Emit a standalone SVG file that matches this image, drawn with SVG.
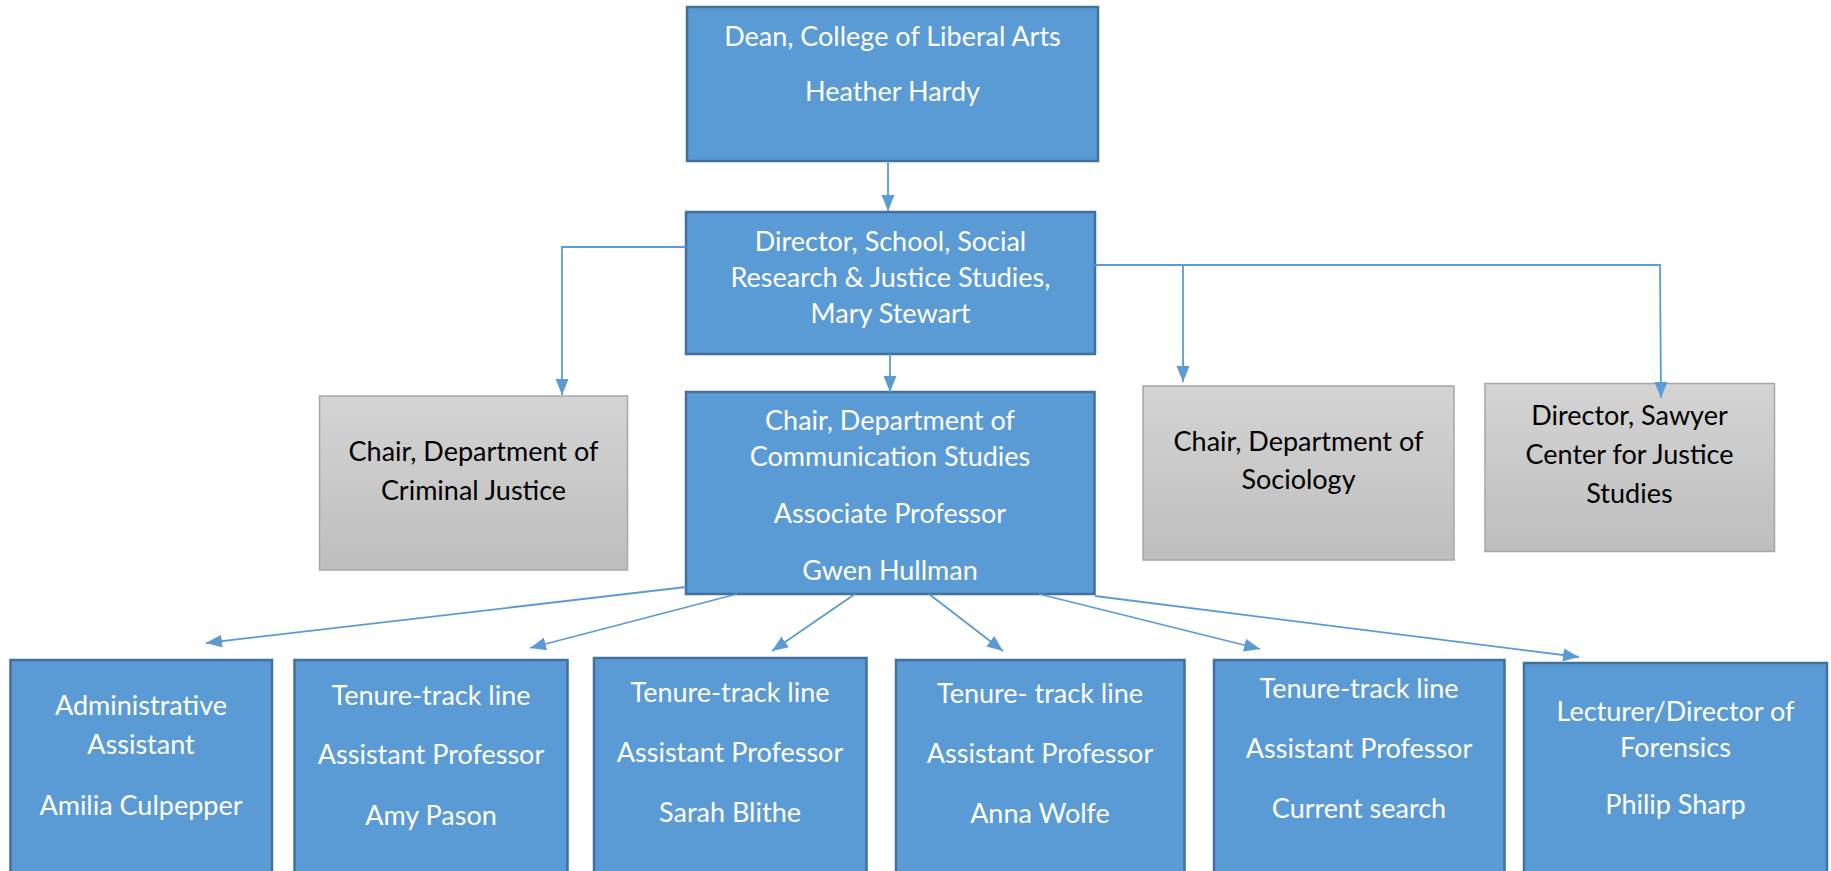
<svg xmlns="http://www.w3.org/2000/svg" width="1831" height="871" viewBox="0 0 1831 871">
<defs>
<linearGradient id="gray" x1="0" y1="0" x2="0" y2="1">
<stop offset="0" stop-color="#D4D4D4"/>
<stop offset="1" stop-color="#BEBEBE"/>
</linearGradient>
<marker id="arr" markerUnits="userSpaceOnUse" markerWidth="17" markerHeight="14" refX="16" refY="7" orient="auto">
<path d="M0,0.5 L16,7 L0,13.5 z" fill="#5B9BD5"/>
</marker>
<style>
.blue{fill:#5B9BD5;stroke:#41719C;stroke-width:2.5}
.grey{fill:url(#gray);stroke:#A6A6A6;stroke-width:1.5}
text{font-family:Lato,"Liberation Sans",sans-serif;font-size:27px;text-anchor:middle}
.w{fill:#FFFFFF}
.k{fill:#000000}
.c{fill:none;stroke:#5B9BD5;stroke-width:1.8;marker-end:url(#arr)}
</style>
</defs>
<rect width="1831" height="871" fill="#FFFFFF"/>
<g id="dean">
<rect class="blue" x="687" y="7" width="411" height="154"/>
<text class="w" x="892.5" y="46">Dean, College of Liberal Arts</text>
<text class="w" x="892.5" y="101">Heather Hardy</text>
</g>
<g id="director">
<rect class="blue" x="686" y="212" width="409" height="142"/>
<text class="w" x="890.5" y="251">Director, School, Social</text>
<text class="w" x="890.5" y="287">Research &amp; Justice Studies,</text>
<text class="w" x="890.5" y="323">Mary Stewart</text>
</g>
<g id="criminal-justice">
<rect class="grey" x="319.5" y="396" width="308" height="174"/>
<text class="k" x="473.5" y="461">Chair, Department of</text>
<text class="k" x="473.5" y="500">Criminal Justice</text>
</g>
<g id="communication">
<rect class="blue" x="686" y="392" width="408.5" height="202"/>
<text class="w" x="890" y="430">Chair, Department of</text>
<text class="w" x="890" y="466">Communication Studies</text>
<text class="w" x="890" y="523">Associate Professor</text>
<text class="w" x="890" y="580">Gwen Hullman</text>
</g>
<g id="sociology">
<rect class="grey" x="1143" y="386" width="311" height="174"/>
<text class="k" x="1298.5" y="451">Chair, Department of</text>
<text class="k" x="1298.5" y="489">Sociology</text>
</g>
<g id="sawyer">
<rect class="grey" x="1485" y="383.5" width="289.5" height="168"/>
<text class="k" x="1629.5" y="425">Director, Sawyer</text>
<text class="k" x="1629.5" y="464">Center for Justice</text>
<text class="k" x="1629.5" y="503">Studies</text>
</g>
<g id="admin">
<rect class="blue" x="10.5" y="660" width="261.5" height="230"/>
<text class="w" x="141" y="715">Administrative</text>
<text class="w" x="141" y="754">Assistant</text>
<text class="w" x="141" y="815">Amilia Culpepper</text>
</g>
<g id="pason">
<rect class="blue" x="294.5" y="660" width="273" height="230"/>
<text class="w" x="431" y="705">Tenure-track line</text>
<text class="w" x="431" y="764">Assistant Professor</text>
<text class="w" x="431" y="825">Amy Pason</text>
</g>
<g id="blithe">
<rect class="blue" x="594" y="658" width="272.5" height="230"/>
<text class="w" x="730" y="702">Tenure-track line</text>
<text class="w" x="730" y="762">Assistant Professor</text>
<text class="w" x="730" y="822">Sarah Blithe</text>
</g>
<g id="wolfe">
<rect class="blue" x="896" y="660" width="288.5" height="230"/>
<text class="w" x="1040" y="703">Tenure- track line</text>
<text class="w" x="1040" y="763">Assistant Professor</text>
<text class="w" x="1040" y="823">Anna Wolfe</text>
</g>
<g id="search">
<rect class="blue" x="1214" y="660" width="290.5" height="230"/>
<text class="w" x="1359" y="698">Tenure-track line</text>
<text class="w" x="1359" y="758">Assistant Professor</text>
<text class="w" x="1359" y="818">Current search</text>
</g>
<g id="sharp">
<rect class="blue" x="1524" y="663" width="303" height="230"/>
<text class="w" x="1675.5" y="721">Lecturer/Director of</text>
<text class="w" x="1675.5" y="757">Forensics</text>
<text class="w" x="1675.5" y="814">Philip Sharp</text>
</g>
<g id="connectors">
<path class="c" d="M888,161 L888,211"/>
<path class="c" d="M890,354 L890,392"/>
<path class="c" d="M686,247 L562,247 L562,395"/>
<path class="c" d="M1095,265 L1183,265 L1183,382"/>
<path class="c" d="M1095,265 L1660,265 L1661,398"/>
<path class="c" d="M686,587 L206,643"/>
<path class="c" d="M737,594 L530,648"/>
<path class="c" d="M855,594 L772,651"/>
<path class="c" d="M929,594 L1003,651"/>
<path class="c" d="M1039,594 L1260,649"/>
<path class="c" d="M1095,596 L1579,657"/>
</g>
</svg>
